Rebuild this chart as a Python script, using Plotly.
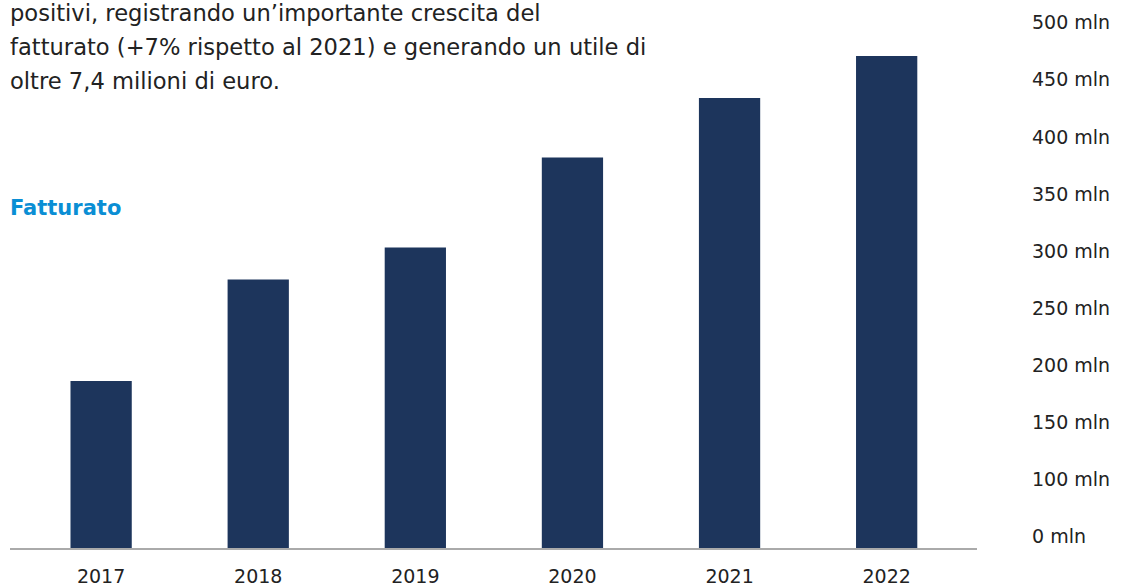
import plotly.graph_objects as go

years = ["2017", "2018", "2019", "2020", "2021", "2022"]
fatturato_mln = [186, 275, 303, 382, 434, 471]
tick_vals = [50, 100, 150, 200, 250, 300, 350, 400, 450, 500]
tick_text = ["0 mln", "100 mln", "150 mln", "200 mln", "250 mln", "300 mln",
             "350 mln", "400 mln", "450 mln", "500 mln"]
intro_lines = [
    "positivi, registrando un\u2019importante crescita del",
    "fatturato (+7% rispetto al 2021) e generando un utile di",
    "oltre 7,4 milioni di euro.",
]

FONT = "DejaVu Sans"

fig = go.Figure()
fig.add_trace(go.Bar(
    x=years, y=fatturato_mln, width=0.39,
    marker=dict(color="#1d355c", line=dict(width=0)),
    hoverinfo="x+y",
))

fig.update_layout(
    width=1122, height=587,
    margin=dict(l=10, r=145, t=0, b=39, autoexpand=False),
    paper_bgcolor="white", plot_bgcolor="white",
    showlegend=False,
    font=dict(family=FONT, color="#222222", size=19),
    xaxis=dict(
        type="category", range=[-0.58, 5.575], automargin=False,
        showline=True, linecolor="#aaaaaa", linewidth=1.5,
        showgrid=False, ticks="", ticklabelstandoff=10,
        tickfont=dict(size=19, color="#222222"),
    ),
    yaxis=dict(
        range=[39.5, 520], side="right", automargin=False,
        tickvals=tick_vals, ticktext=tick_text,
        showgrid=False, zeroline=False, showline=False, ticks="",
        ticklabelstandoff=54,
        tickfont=dict(size=19, color="#222222"),
    ),
)

for i, line in enumerate(intro_lines):
    fig.add_annotation(
        text=line, xref="paper", yref="paper",
        x=-2 / 967, y=1 - (13 + 34 * i) / 548,
        xanchor="left", yanchor="middle", showarrow=False,
        font=dict(family=FONT, size=22.6, color="#222222"),
    )

fig.add_annotation(
    text="<b>Fatturato</b>", xref="paper", yref="paper",
    x=-2 / 967, y=1 - 208 / 548, xanchor="left", yanchor="middle", showarrow=False,
    font=dict(family=FONT, size=21, color="#0a8ed4"),
)

fig.write_html("out.html")
